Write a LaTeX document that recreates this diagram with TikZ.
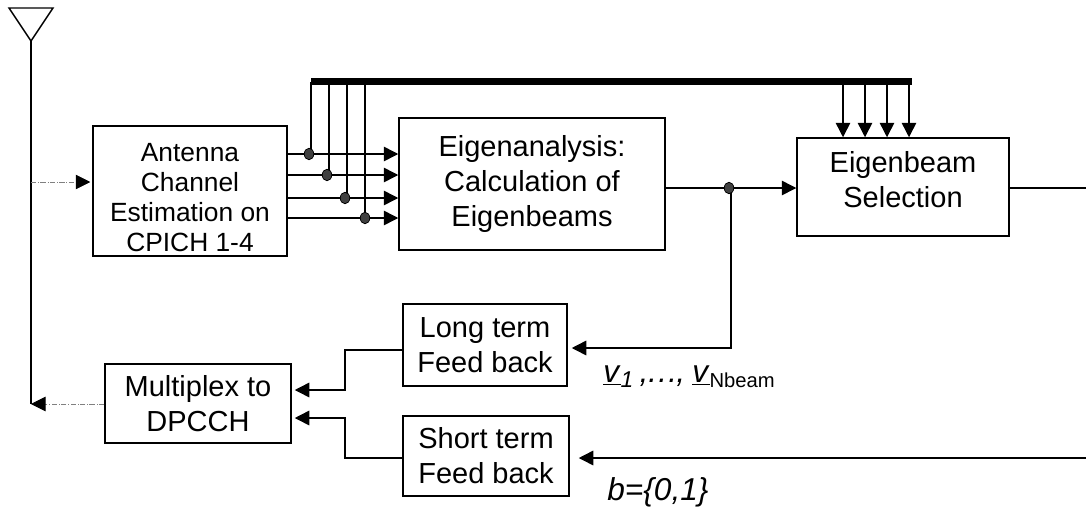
\documentclass[tikz,border=0pt]{standalone}
\usepackage{fontspec}
\setmainfont{Liberation Sans}
\usetikzlibrary{arrows.meta,shapes}
\tikzset{
  blockbox/.style={draw,line width=0.85pt,align=center,inner sep=0pt},
  bigtext/.style={font=\fontsize{16.5}{20}\selectfont},
  smalltext/.style={font=\fontsize{15}{17}\selectfont},
  sig/.style={line width=0.85pt},
  arr/.style={sig,-{Triangle[length=0.29cm,width=0.29cm]}},
  weak/.style={line width=0.4pt,gray,densely dashdotted,-{Triangle[length=0.29cm,width=0.29cm,black]}},
  junc/.style={draw,fill=black!75,ellipse,minimum width=0.19cm,minimum height=0.23cm,inner sep=0pt,line width=0.4pt},
  symtext/.style={anchor=base west,inner sep=0pt,font=\fontsize{18}{20}\selectfont},
}
\newcommand{\vsym}{\underline{\textit{v}}}
\newcommand{\topgap}[1]{\rule{0pt}{#1}}
\newcommand{\botgap}[1]{\rule[-#1]{0pt}{#1}}

\begin{document}
\begin{tikzpicture}
\useasboundingbox (0,0) rectangle (21.72,10.12);
% blocks
\node[blockbox,smalltext,minimum width=3.88cm,minimum height=2.60cm] (est) at (3.80,6.30) {\topgap{0.62cm}Antenna\\Channel\\Estimation on\\CPICH 1-4};
\node[blockbox,bigtext,minimum width=5.32cm,minimum height=2.64cm] (eig) at (10.64,6.44) {Eigenanalysis:\\Calculation of\\Eigenbeams};
\node[blockbox,bigtext,minimum width=4.24cm,minimum height=1.96cm] (sel) at (18.06,6.38) {Eigenbeam\\Selection\botgap{0.30cm}};
\node[blockbox,bigtext,minimum width=3.28cm,minimum height=1.64cm] (lng) at (9.70,3.22) {Long term\\Feed back};
\node[blockbox,bigtext,minimum width=3.32cm,minimum height=1.60cm] (sht) at (9.72,1.00) {Short term\\Feed back};
\node[blockbox,bigtext,minimum width=3.72cm,minimum height=1.58cm] (mux) at (3.96,2.05) {Multiplex to\\DPCCH};
% antenna
\coordinate (ant) at (0.62,9.30);
\coordinate (antb) at (0.62,2.04);
\coordinate (antm) at (0.62,6.48);
\draw[sig] (0.18,9.96) -- (1.06,9.96) -- (ant) -- cycle;
\draw[sig] (ant) -- (antb);
\draw[weak,shorten >=0.04cm] (antm) -- (est.west |- antm);
\draw[weak] (mux.west |- antb) -- (antb);
% bus
\coordinate (busl) at (6.22,8.49);
\coordinate (busr) at (18.24,8.49);
\draw[line width=0.14cm] (busl) -- (busr);
\coordinate (r1) at (6.18,7.04);
\coordinate (r2) at (6.54,6.62);
\coordinate (r3) at (6.90,6.16);
\coordinate (r4) at (7.30,5.76);
\draw[arr] (est.east |- r1) -- (eig.west |- r1);
\draw[arr] (est.east |- r2) -- (eig.west |- r2);
\draw[arr] (est.east |- r3) -- (eig.west |- r3);
\draw[arr] (est.east |- r4) -- (eig.west |- r4);
\coordinate (u1) at (6.22,8.49);
\coordinate (u2) at (6.58,8.49);
\coordinate (u3) at (6.94,8.49);
\coordinate (u4) at (7.30,8.49);
\draw[sig] (u1) -- (u1 |- r1);
\draw[sig] (u2) -- (u2 |- r2);
\draw[sig] (u3) -- (u3 |- r3);
\draw[sig] (u4) -- (u4 |- r4);
\node[junc] (j1) at (r1) {};
\node[junc] (j2) at (r2) {};
\node[junc] (j3) at (r3) {};
\node[junc] (j4) at (r4) {};
\coordinate (d1) at (16.86,8.49);
\coordinate (d2) at (17.30,8.49);
\coordinate (d3) at (17.74,8.49);
\coordinate (d4) at (18.18,8.49);
\draw[arr] (d1) -- (d1 |- sel.north);
\draw[arr] (d2) -- (d2 |- sel.north);
\draw[arr] (d3) -- (d3 |- sel.north);
\draw[arr] (d4) -- (d4 |- sel.north);
% eigenbeam paths
\coordinate (r5) at (14.58,6.36);
\coordinate (k5) at (14.62,6.36);
\coordinate (k6) at (14.62,3.16);
\coordinate (outr) at (21.72,6.36);
\coordinate (inr) at (21.72,0.96);
\draw[arr] (eig.east |- r5) -- (sel.west |- r5);
\draw[sig] (sel.east |- r5) -- (outr);
\draw[arr,shorten >=0.08cm] (k5) -- (k6) -- (lng.east |- k6);
\draw[arr,shorten >=0.18cm] (inr) -- (sht.east |- inr);
\node[junc] (j5) at (r5) {};
% into multiplexer
\coordinate (m1) at (6.90,3.12);
\coordinate (m2) at (6.90,2.32);
\coordinate (m3) at (6.90,1.76);
\coordinate (m4) at (6.90,0.96);
\draw[arr,shorten >=0.06cm] (lng.west |- m1) -- (m1) -- (m2) -- (mux.east |- m2);
\draw[arr,shorten >=0.06cm] (sht.west |- m4) -- (m4) -- (m3) -- (mux.east |- m3);
% labels
\node[symtext] (vlab) at (12.06,2.48) {\vsym\raisebox{-0.35ex}{\fontsize{13}{13}\selectfont\textit{1}} \hspace{-1.5pt}\textit{,\hspace{-1pt}…\hspace{-1pt},}\hspace{-1pt} \vsym\raisebox{-0.35ex}{\fontsize{11.5}{13}\selectfont Nbeam}};
\node[symtext] (blab) at (12.14,0.12) {\textit{b=\{0,1\}}};
\end{tikzpicture}
\end{document}
